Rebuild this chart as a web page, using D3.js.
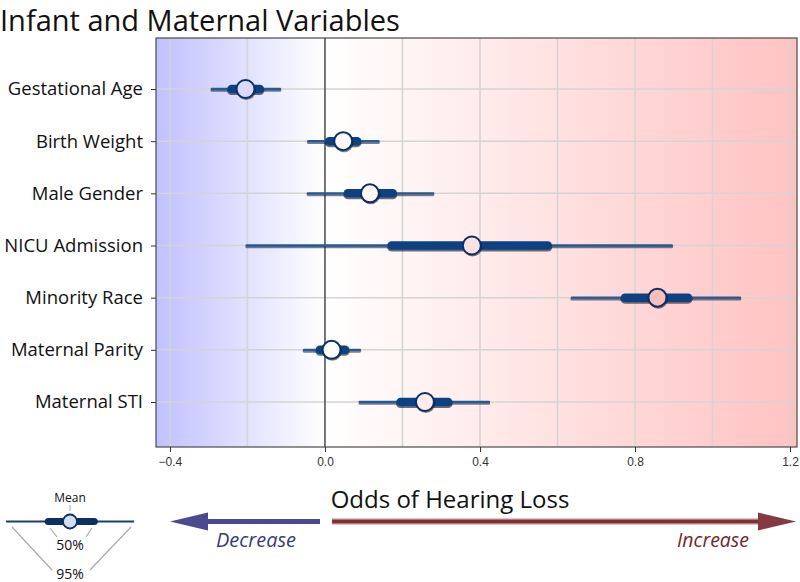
<!DOCTYPE html>
<html>
<head>
<meta charset="utf-8">
<script src="https://cdn.jsdelivr.net/npm/d3@7"></script>
<style>
  body { margin: 0; background: #fff; }
  svg { display: block; }
</style>
</head>
<body>
<div id="chart"></div>
<script>
// values (log odds)
var categories = ['Gestational Age', 'Birth Weight', 'Male Gender', 'NICU Admission',
  'Minority Race', 'Maternal Parity', 'Maternal STI'];
var means = [-0.205, 0.047, 0.116, 0.379, 0.858, 0.017, 0.258];
var lo95 = [-0.292, -0.043, -0.044, -0.202, 0.637, -0.054, 0.090];
var hi95 = [-0.116, 0.138, 0.279, 0.895, 1.071, 0.090, 0.423];
var lo50 = [-0.241, 0.011, 0.059, 0.172, 0.774, -0.013, 0.195];
var hi50 = [-0.168, 0.083, 0.175, 0.575, 0.937, 0.052, 0.318];
var xTicks = [-0.4, 0, 0.4, 0.8, 1.2];
var gridTicks = [-0.4, -0.2, 0, 0.2, 0.4, 0.6, 0.8, 1.0, 1.2];

var W = 800, H = 582;
var plot = { left: 156, right: 797, top: 38, bottom: 447 };
var font = "'Open Sans', 'Noto Sans', sans-serif";

var svg = d3.select('#chart').append('svg')
    .attr('width', W)
    .attr('height', H);

var x = d3.scaleLinear().domain([-0.436, 1.218]).range([plot.left, plot.right]);
var y = d3.scalePoint().domain(categories).range([89, 402]);

// background colour, blue below zero, red above
var bg = d3.scaleLinear()
    .domain([x.domain()[0], 0, x.domain()[1]])
    .range(['rgb(192,192,255)', '#ffffff', 'rgb(255,194,194)']);
// the mean dots pick up a stronger version of it
var dotFill = d3.scaleLinear()
    .domain([x.domain()[0], 0, x.domain()[1]])
    .range(['rgb(175,175,250)', '#ffffff', 'rgb(250,160,160)']);

var defs = svg.append('defs');
var grad = defs.append('linearGradient')
    .attr('id', 'bgGrad')
    .attr('x1', '0%').attr('x2', '100%').attr('y1', '0%').attr('y2', '0%');
var span = plot.right - plot.left;
[x.domain()[0], -0.2, 0, 0.3, 0.6, 0.9, x.domain()[1]].forEach(function(v) {
    grad.append('stop')
        .attr('offset', ((x(v) - plot.left) / span * 100) + '%')
        .attr('stop-color', bg(v));
});

svg.append('rect')
    .attr('x', plot.left).attr('y', plot.top)
    .attr('width', span).attr('height', plot.bottom - plot.top)
    .style('fill', 'url(#bgGrad)');

// grid
svg.append('g').selectAll('line')
    .data(gridTicks.filter(function(d) { return d !== 0; }))
    .join('line')
    .attr('x1', function(d) { return x(d); }).attr('x2', function(d) { return x(d); })
    .attr('y1', plot.top).attr('y2', plot.bottom)
    .style('stroke', '#d4d4d4')
    .style('stroke-width', 1.5);

svg.append('g').selectAll('line')
    .data(categories)
    .join('line')
    .attr('x1', plot.left).attr('x2', plot.right)
    .attr('y1', function(d) { return y(d); }).attr('y2', function(d) { return y(d); })
    .style('stroke', '#d4d4d4')
    .style('stroke-width', 1.5);

// zero line
svg.append('line')
    .attr('x1', x(0)).attr('x2', x(0))
    .attr('y1', plot.top).attr('y2', plot.bottom)
    .style('stroke', '#555')
    .style('stroke-width', 1.6);

// border
svg.append('rect')
    .attr('x', plot.left).attr('y', plot.top)
    .attr('width', span).attr('height', plot.bottom - plot.top)
    .style('fill', 'none')
    .style('stroke', '#4a4a4a')
    .style('stroke-width', 1.2);

// x axis
var xAxis = svg.append('g')
    .attr('transform', 'translate(0,' + plot.bottom + ')')
    .call(d3.axisBottom(x).tickValues(xTicks).tickSize(5).tickSizeOuter(0)
        .tickFormat(d3.format('.1f')));
xAxis.select('.domain').remove();
xAxis.selectAll('line').style('stroke', '#333');
xAxis.selectAll('text')
    .style('font-family', "'Liberation Sans', Arial, sans-serif")
    .style('font-size', '12px')
    .style('fill', '#333')
    .attr('dy', '0.95em');

// y axis
var yAxis = svg.append('g')
    .attr('transform', 'translate(' + plot.left + ',0)')
    .call(d3.axisLeft(y).tickSize(5).tickPadding(8));
yAxis.select('.domain').remove();
yAxis.selectAll('line').style('stroke', '#333');
yAxis.selectAll('text')
    .style('font-family', font)
    .style('font-size', '18.5px')
    .style('fill', '#111');

// intervals
var rows = categories.map(function(c, i) {
    return { cat: c, mean: means[i], lo95: lo95[i], hi95: hi95[i], lo50: lo50[i], hi50: hi50[i] };
});

var marks = svg.append('g');
var g = marks.selectAll('g').data(rows).join('g')
    .attr('transform', function(d) { return 'translate(0,' + y(d.cat) + ')'; });

// shadows
g.append('line')
    .attr('x1', function(d) { return x(d.lo95); }).attr('x2', function(d) { return x(d.hi95); })
    .attr('y1', 1.5).attr('y2', 1.5)
    .style('stroke', '#2a2a3a').style('stroke-opacity', 0.6)
    .style('stroke-width', 2.6).style('stroke-linecap', 'round');
g.append('line')
    .attr('x1', function(d) { return x(d.lo50); }).attr('x2', function(d) { return x(d.hi50); })
    .attr('y1', 1.5).attr('y2', 1.5)
    .style('stroke', '#111122').style('stroke-opacity', 0.6)
    .style('stroke-width', 9).style('stroke-linecap', 'round');

g.append('line')
    .attr('x1', function(d) { return x(d.lo95); }).attr('x2', function(d) { return x(d.hi95); })
    .style('stroke', '#1f5c9e')
    .style('stroke-width', 2.4).style('stroke-linecap', 'round');
g.append('line')
    .attr('x1', function(d) { return x(d.lo50); }).attr('x2', function(d) { return x(d.hi50); })
    .style('stroke', '#0c4182')
    .style('stroke-width', 8.5).style('stroke-linecap', 'round');

g.append('circle')
    .attr('cx', function(d) { return x(d.mean) + 0.8; }).attr('cy', 1.5)
    .attr('r', 9.5)
    .style('fill', '#111').style('fill-opacity', 0.5);
g.append('circle')
    .attr('cx', function(d) { return x(d.mean); })
    .attr('r', 9)
    .style('fill', function(d) { return dotFill(d.mean); })
    .style('stroke', '#0b2f66')
    .style('stroke-width', 2);

// title
svg.append('text')
    .attr('x', 0).attr('y', 31)
    .style('font-family', font)
    .style('font-size', '29px')
    .style('fill', '#111')
    .text('Infant and Maternal Variables');

// bottom annotation
svg.append('text')
    .attr('x', 450).attr('y', 508)
    .attr('text-anchor', 'middle')
    .style('font-family', font)
    .style('font-size', '24px')
    .style('fill', '#111')
    .text('Odds of Hearing Loss');

var ay = 521.5;
// decrease arrow
svg.append('line')
    .attr('x1', 200).attr('x2', 320).attr('y1', ay).attr('y2', ay)
    .style('stroke', '#4b4a8e').style('stroke-width', 5);
svg.append('path')
    .attr('d', 'M170,' + ay + 'L208,' + (ay - 9) + 'L208,' + (ay + 9) + 'Z')
    .style('fill', '#4b4a8e');
svg.append('text')
    .attr('x', 256).attr('y', 547)
    .attr('text-anchor', 'middle')
    .style('font-family', font)
    .style('font-style', 'italic')
    .style('font-size', '20px')
    .style('fill', '#3a3a7c')
    .text('Decrease');

// increase arrow
svg.append('line')
    .attr('x1', 332).attr('x2', 762).attr('y1', ay).attr('y2', ay)
    .style('stroke', '#e4c4c6').style('stroke-width', 7);
svg.append('line')
    .attr('x1', 332).attr('x2', 762).attr('y1', ay).attr('y2', ay)
    .style('stroke', '#7e3036').style('stroke-width', 4);
svg.append('path')
    .attr('d', 'M796,' + ay + 'L758,' + (ay - 9) + 'L758,' + (ay + 9) + 'Z')
    .style('fill', '#833a40');
svg.append('text')
    .attr('x', 749).attr('y', 547)
    .attr('text-anchor', 'end')
    .style('font-family', font)
    .style('font-style', 'italic')
    .style('font-size', '19.5px')
    .style('fill', '#74252c')
    .text('Increase');

// legend
var leg = svg.append('g');
var lx = d3.scaleLinear().domain([0, 1]).range([6, 134]);
var ly = 521.5;
leg.append('line')
    .attr('x1', lx(0)).attr('x2', lx(1)).attr('y1', ly).attr('y2', ly)
    .style('stroke', '#1c3f70').style('stroke-width', 2);
leg.append('line')
    .attr('x1', lx(0.33)).attr('x2', lx(0.69)).attr('y1', ly).attr('y2', ly)
    .style('stroke', '#0d2f63').style('stroke-width', 7).style('stroke-linecap', 'round');
leg.append('circle')
    .attr('cx', lx(0.5)).attr('cy', ly).attr('r', 7)
    .style('fill', '#cfe1ee').style('stroke', '#0d2f63').style('stroke-width', 1.8);
leg.append('line')
    .attr('x1', lx(0.5)).attr('x2', lx(0.5)).attr('y1', 505).attr('y2', 511)
    .style('stroke', '#aaa').style('stroke-width', 1);
var guides = [[50, 528, 57, 537], [92, 528, 86, 537], [12, 527, 52, 570], [131, 527, 90, 570]];
leg.selectAll('.guide').data(guides).join('line')
    .attr('class', 'guide')
    .attr('x1', function(d) { return d[0]; }).attr('y1', function(d) { return d[1]; })
    .attr('x2', function(d) { return d[2]; }).attr('y2', function(d) { return d[3]; })
    .style('stroke', '#aaa').style('stroke-width', 1.2);
leg.append('text')
    .attr('x', lx(0.5)).attr('y', 502).attr('text-anchor', 'middle')
    .style('font-family', font).style('font-size', '12px').style('fill', '#111')
    .text('Mean');
leg.append('text')
    .attr('x', lx(0.5)).attr('y', 550).attr('text-anchor', 'middle')
    .style('font-family', font).style('font-size', '14px').style('fill', '#111')
    .text('50%');
leg.append('text')
    .attr('x', lx(0.5)).attr('y', 579).attr('text-anchor', 'middle')
    .style('font-family', font).style('font-size', '14px').style('fill', '#111')
    .text('95%');
</script>
</body>
</html>
